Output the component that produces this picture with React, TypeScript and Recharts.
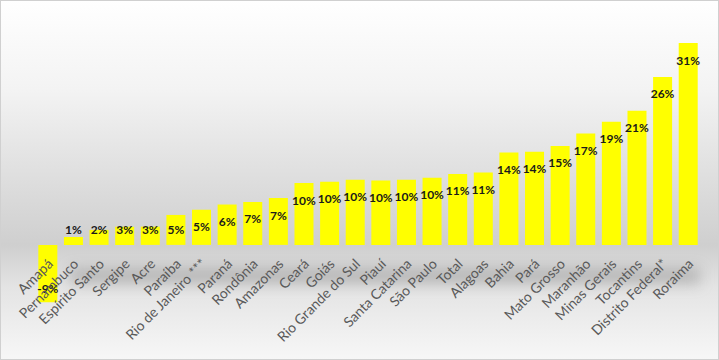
import { BarChart, Bar, XAxis, YAxis, LabelList } from 'recharts';

const states = [
  'Amapá', 'Pernambuco', 'Espírito Santo', 'Sergipe', 'Acre', 'Paraíba',
  'Rio de Janeiro ***', 'Paraná', 'Rondônia', 'Amazonas', 'Ceará', 'Goiás',
  'Rio Grande do Sul', 'Piauí', 'Santa Catarina', 'São Paulo', 'Total', 'Alagoas',
  'Bahia', 'Pará', 'Mato Grosso', 'Maranhão', 'Minas Gerais', 'Tocantins',
  'Distrito Federal*', 'Roraima',
];

// variação (%)
const growth = [
  -8.8, 1.2, 2.3, 2.8, 2.8, 4.6,
  5.4, 6.2, 6.6, 7.2, 9.5, 9.7,
  10.0, 9.9, 10.0, 10.3, 10.9, 11.1,
  14.2, 14.3, 15.2, 17.1, 18.9, 20.6,
  25.8, 31.0,
];

const rows = states.map((s, i) => ({ state: s, growth: growth[i] }));

const FONT = 'Lato, "Open Sans", sans-serif';

const ValueLabel = (props: any) => {
  const { x, y, width, height, value } = props;
  const top = Math.min(y, y + height);
  const bottom = Math.max(y, y + height);
  let cy;
  if (value >= 0) {
    cy = Math.min(top + 17, bottom - 15);
  } else {
    cy = bottom - 14;
  }
  return (
    <text
      x={x + width / 2}
      y={cy}
      textAnchor="middle"
      dominantBaseline="central"
      fontFamily={FONT}
      fontWeight={700}
      fontSize={12}
      fill="#1a1a1a"
    >
      {Math.round(value) + '%'}
    </text>
  );
};

const CategoryLabel = (props: any) => {
  const { x, y, width, height, value, index } = props;
  const zero = growth[index] >= 0 ? Math.max(y, y + height) : Math.min(y, y + height);
  const ax = x + width / 2 + 6;
  const ay = zero + 20;
  return (
    <text
      x={ax}
      y={ay}
      textAnchor="end"
      transform={`rotate(-45 ${ax} ${ay})`}
      fontFamily={FONT}
      fontSize={14}
      fill="#595959"
    >
      {value}
    </text>
  );
};

export default function App() {
  return (
    <div
      style={{
        position: 'absolute',
        left: 0,
        top: 0,
        width: 719,
        height: 360,
        background:
          'linear-gradient(to bottom, #ffffff 0%, #f3f3f3 25%, #dcdcdc 52%, #cfcfcf 68%, #e4e4e4 80%, #f7f7f7 100%)',
      }}
    >
      <div
        style={{
          position: 'absolute',
          left: 70,
          top: 268,
          width: 630,
          height: 16,
          background: 'rgba(110,110,110,0.35)',
          filter: 'blur(7px)',
        }}
      />
      <div style={{ position: 'absolute', left: 0, top: 0 }}>
        <BarChart
          width={719}
          height={360}
          data={rows}
          margin={{ top: 17, right: 18, bottom: 50, left: 35 }}
          barCategoryGap="13%"
        >
          <XAxis dataKey="state" hide />
          <YAxis hide domain={[-10, 35]} />
          <Bar dataKey="growth" fill="#ffff00" isAnimationActive={false}>
            <LabelList dataKey="growth" content={ValueLabel} />
            <LabelList dataKey="state" content={CategoryLabel} />
          </Bar>
        </BarChart>
      </div>
      <div
        style={{
          position: 'absolute',
          left: 0,
          top: 0,
          width: 719,
          height: 360,
          boxSizing: 'border-box',
          border: '1px solid #d0d0d0',
          pointerEvents: 'none',
        }}
      />
    </div>
  );
}
